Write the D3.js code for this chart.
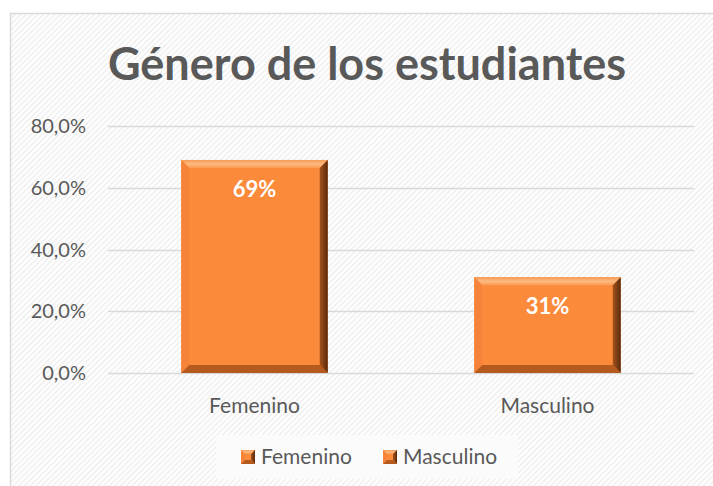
<!DOCTYPE html>
<html>
<head>
<meta charset="utf-8">
<script src="https://cdn.jsdelivr.net/npm/d3@7"></script>
<style>
  body { margin: 0; background: #fff; }
  svg text { font-family: Lato, "Open Sans", sans-serif; }
</style>
</head>
<body>
<svg id="chart"></svg>
<script>
// data
const categories = ["Femenino", "Masculino"];
const values = [0.69, 0.31];
const labels = ["69%", "31%"];
const ticks = [0, 0.2, 0.4, 0.6, 0.8];

const W = 713, H = 486;
const svg = d3.select("#chart").attr("width", W).attr("height", H);

// striped background
const defs = svg.append("defs");
const pat = defs.append("pattern")
  .attr("id", "stripes")
  .attr("width", 4).attr("height", 4)
  .attr("patternUnits", "userSpaceOnUse")
  .attr("patternTransform", "rotate(45)");
pat.append("rect").attr("width", 4).attr("height", 4).attr("fill", "#ffffff");
pat.append("rect").attr("width", 1.6).attr("height", 4).attr("fill", "#efefef");

// bevel gradients
const gr = defs.append("linearGradient").attr("id", "rightEdge").attr("x1", 0).attr("x2", 1).attr("y1", 0).attr("y2", 0);
gr.append("stop").attr("offset", 0).attr("stop-color", "#a5531c");
gr.append("stop").attr("offset", 1).attr("stop-color", "#5a2a0c");
const gt = defs.append("linearGradient").attr("id", "topEdge").attr("x1", 0).attr("x2", 0).attr("y1", 0).attr("y2", 1);
gt.append("stop").attr("offset", 0).attr("stop-color", "#f59a55");
gt.append("stop").attr("offset", 0.5).attr("stop-color", "#fdbb80");
gt.append("stop").attr("offset", 1).attr("stop-color", "#fb9a52");

svg.append("rect").attr("x", 0).attr("y", 0).attr("width", W).attr("height", H).attr("fill", "#fff");
svg.append("rect")
  .attr("x", 10.5).attr("y", 13.5).attr("width", W + 20).attr("height", H + 20)
  .attr("fill", "url(#stripes)")
  .attr("stroke", "#d9d9d9").attr("stroke-width", 1.5);

// title
svg.append("text")
  .attr("x", 367).attr("y", 80)
  .attr("text-anchor", "middle")
  .attr("font-size", 45).attr("font-weight", "bold")
  .attr("fill", "#595959")
  .text("Género de los estudiantes");

const x = d3.scaleBand().domain(categories).range([108, 694]).paddingInner(0.5).paddingOuter(0.25);
const y = d3.scaleLinear().domain([0, 0.8]).range([373, 126]);

// gridlines
svg.append("g").selectAll("line").data(ticks).join("line")
  .attr("x1", 108).attr("x2", 694)
  .attr("y1", d => Math.round(y(d)) + 0.5).attr("y2", d => Math.round(y(d)) + 0.5)
  .attr("stroke", "#d9d9d9").attr("stroke-width", 1.5);

// y axis labels
const fmt = d => d3.format(".1f")(d * 100).replace(".", ",") + "%";
svg.append("g").selectAll("text").data(ticks).join("text")
  .attr("x", 86).attr("y", d => y(d) + 7)
  .attr("text-anchor", "end")
  .attr("font-size", 20).attr("fill", "#595959")
  .text(fmt);

// bevelled bars
function bevel(g, x0, y0, w, h, b) {
  const x1 = x0 + w, y1 = y0 + h;
  g.append("rect").attr("x", x0).attr("y", y0).attr("width", w).attr("height", h).attr("fill", "#fb8a3a");
  g.append("polygon").attr("points", [[x0, y0], [x1, y0], [x1 - b, y0 + b], [x0 + b, y0 + b]].join(" ")).attr("fill", "url(#topEdge)");
  g.append("polygon").attr("points", [[x0, y0], [x0 + b, y0 + b], [x0 + b, y1 - b], [x0, y1]].join(" ")).attr("fill", "#f5843a");
  g.append("polygon").attr("points", [[x1, y0], [x1, y1], [x1 - b, y1 - b], [x1 - b, y0 + b]].join(" ")).attr("fill", "url(#rightEdge)");
  g.append("polygon").attr("points", [[x0, y1], [x1, y1], [x1 - b, y1 - b], [x0 + b, y1 - b]].join(" ")).attr("fill", "#b55a1e");
}

const bars = svg.append("g");
categories.forEach((c, i) => {
  const g = bars.append("g");
  bevel(g, x(c), y(values[i]), x.bandwidth(), y(0) - y(values[i]), 8);
});

// data labels
svg.append("g").selectAll("text").data(categories).join("text")
  .attr("x", d => x(d) + x.bandwidth() / 2)
  .attr("y", (d, i) => y(values[i]) + 37)
  .attr("text-anchor", "middle")
  .attr("font-size", 22).attr("font-weight", "bold").attr("fill", "#fff")
  .text((d, i) => labels[i]);

// category labels
svg.append("g").selectAll("text").data(categories).join("text")
  .attr("x", d => x(d) + x.bandwidth() / 2)
  .attr("y", 413)
  .attr("text-anchor", "middle")
  .attr("font-size", 21).attr("fill", "#595959")
  .text(d => d);

// legend
const leg = svg.append("g");
leg.append("rect").attr("x", 216).attr("y", 435).attr("width", 302).attr("height", 44).attr("fill", "#fbfbfb");
const legX = [241, 383];
categories.forEach((c, i) => {
  const g = leg.append("g");
  bevel(g, legX[i], 450, 14, 14, 4);
  g.append("text").attr("x", legX[i] + 20).attr("y", 464)
    .attr("font-size", 21).attr("fill", "#595959").text(c);
});
</script>
</body>
</html>
